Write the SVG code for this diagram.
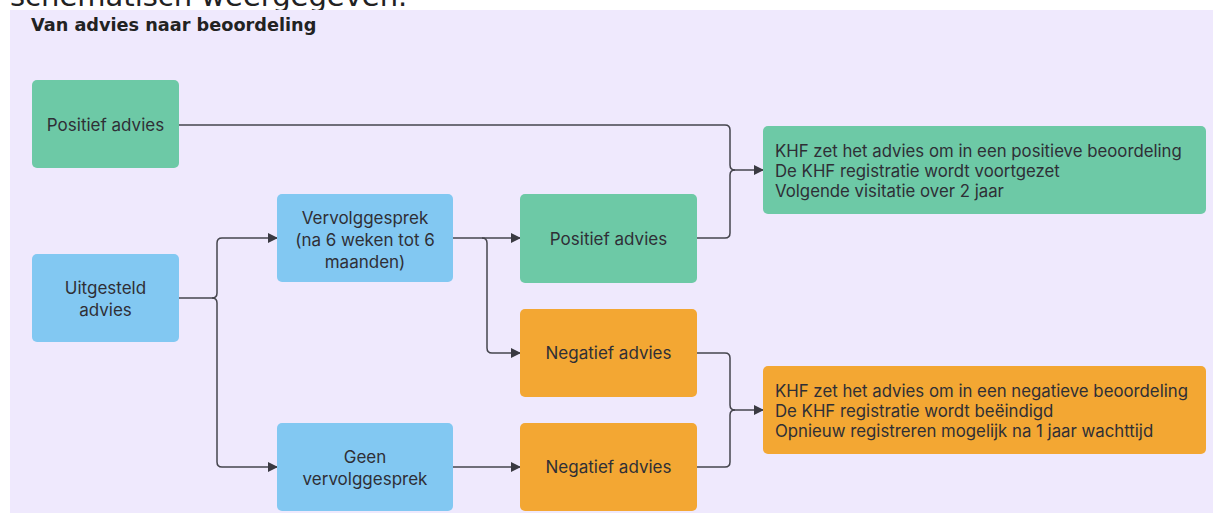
<svg xmlns="http://www.w3.org/2000/svg" width="1215" height="518" viewBox="0 0 1215 518">
<style>
.node{stroke:none}
.g{fill:#6DC9A6}
.b{fill:#82C8F2}
.o{fill:#F3A733}
.t{font-family:Inter,"Liberation Sans",sans-serif;font-size:17px;fill:#2f2f36}
.l{font-size:16.8px}
.c{text-anchor:middle}
.conn path{fill:none;stroke:#45454d;stroke-width:1.5}
</style>
<defs>
<marker id="ah" viewBox="0 0 10 10" refX="9" refY="5" markerWidth="10" markerHeight="10" markerUnits="userSpaceOnUse" orient="auto">
<path d="M0,0 L10,5 L0,10 z" fill="#3a3a42"/>
</marker>
</defs>
<rect width="1215" height="518" fill="#ffffff"/>
<text x="10" y="6" font-family="DejaVu Sans,sans-serif" font-size="29" fill="#222">schematisch weergegeven.</text>
<rect x="10" y="10" width="1203" height="503" fill="#EFE9FD"/>
<text x="31" y="31" font-family="DejaVu Sans,sans-serif" font-weight="bold" font-size="17.7" fill="#222">Van advies naar beoordeling</text>

<g class="conn">
<path d="M179,125 H725 Q730,125 730,130 V165 Q730,170 735,170 H763" marker-end="url(#ah)"/>
<path d="M697,238 H725 Q730,238 730,233 V175 Q730,170 735,170"/>
<path d="M179,298 H212 Q217,298 217,293 V243 Q217,238 222,238 H277" marker-end="url(#ah)"/>
<path d="M212,298 Q217,298 217,303 V462 Q217,467 222,467 H277" marker-end="url(#ah)"/>
<path d="M453,238 H520" marker-end="url(#ah)"/>
<path d="M482,238 Q487,238 487,243 V348 Q487,353 492,353 H520" marker-end="url(#ah)"/>
<path d="M453,467 H520" marker-end="url(#ah)"/>
<path d="M697,353 H725 Q730,353 730,358 V405 Q730,410 735,410 H763" marker-end="url(#ah)"/>
<path d="M697,467 H725 Q730,467 730,462 V415 Q730,410 735,410"/>
</g>

<g id="n-positief1"><rect class="node g" x="32" y="80" width="147" height="88" rx="5"/><text class="t c" x="105.5" y="131">Positief advies</text></g>
<g id="n-uitgesteld"><rect class="node b" x="32" y="254" width="147" height="88" rx="5"/><text class="t c" x="105.5" y="294">Uitgesteld</text><text class="t c" x="105.5" y="316">advies</text></g>
<g id="n-vervolg"><rect class="node b" x="277" y="194" width="176" height="88" rx="5"/><text class="t c" x="365" y="224">Vervolggesprek</text><text class="t c" x="365" y="246">(na 6 weken tot 6</text><text class="t c" x="365" y="268">maanden)</text></g>
<g id="n-positief2"><rect class="node g" x="520" y="194" width="177" height="89" rx="5"/><text class="t c" x="608.5" y="245">Positief advies</text></g>
<g id="n-negatief1"><rect class="node o" x="520" y="309" width="177" height="88" rx="5"/><text class="t c" x="608.5" y="359">Negatief advies</text></g>
<g id="n-geen"><rect class="node b" x="277" y="423" width="176" height="88" rx="5"/><text class="t c" x="365" y="463">Geen</text><text class="t c" x="365" y="485">vervolggesprek</text></g>
<g id="n-negatief2"><rect class="node o" x="520" y="423" width="177" height="88" rx="5"/><text class="t c" x="608.5" y="473">Negatief advies</text></g>
<g id="n-uitkomst-pos"><rect class="node g" x="763" y="126" width="443" height="88" rx="5"/><text class="t l" x="775" y="157">KHF zet het advies om in een positieve beoordeling</text><text class="t l" x="775" y="177">De KHF registratie wordt voortgezet</text><text class="t l" x="775" y="197">Volgende visitatie over 2 jaar</text></g>
<g id="n-uitkomst-neg"><rect class="node o" x="763" y="366" width="443" height="88" rx="5"/><text class="t l" x="775" y="397">KHF zet het advies om in een negatieve beoordeling</text><text class="t l" x="775" y="417">De KHF registratie wordt beëindigd</text><text class="t l" x="775" y="437">Opnieuw registreren mogelijk na 1 jaar wachttijd</text></g>
</svg>
